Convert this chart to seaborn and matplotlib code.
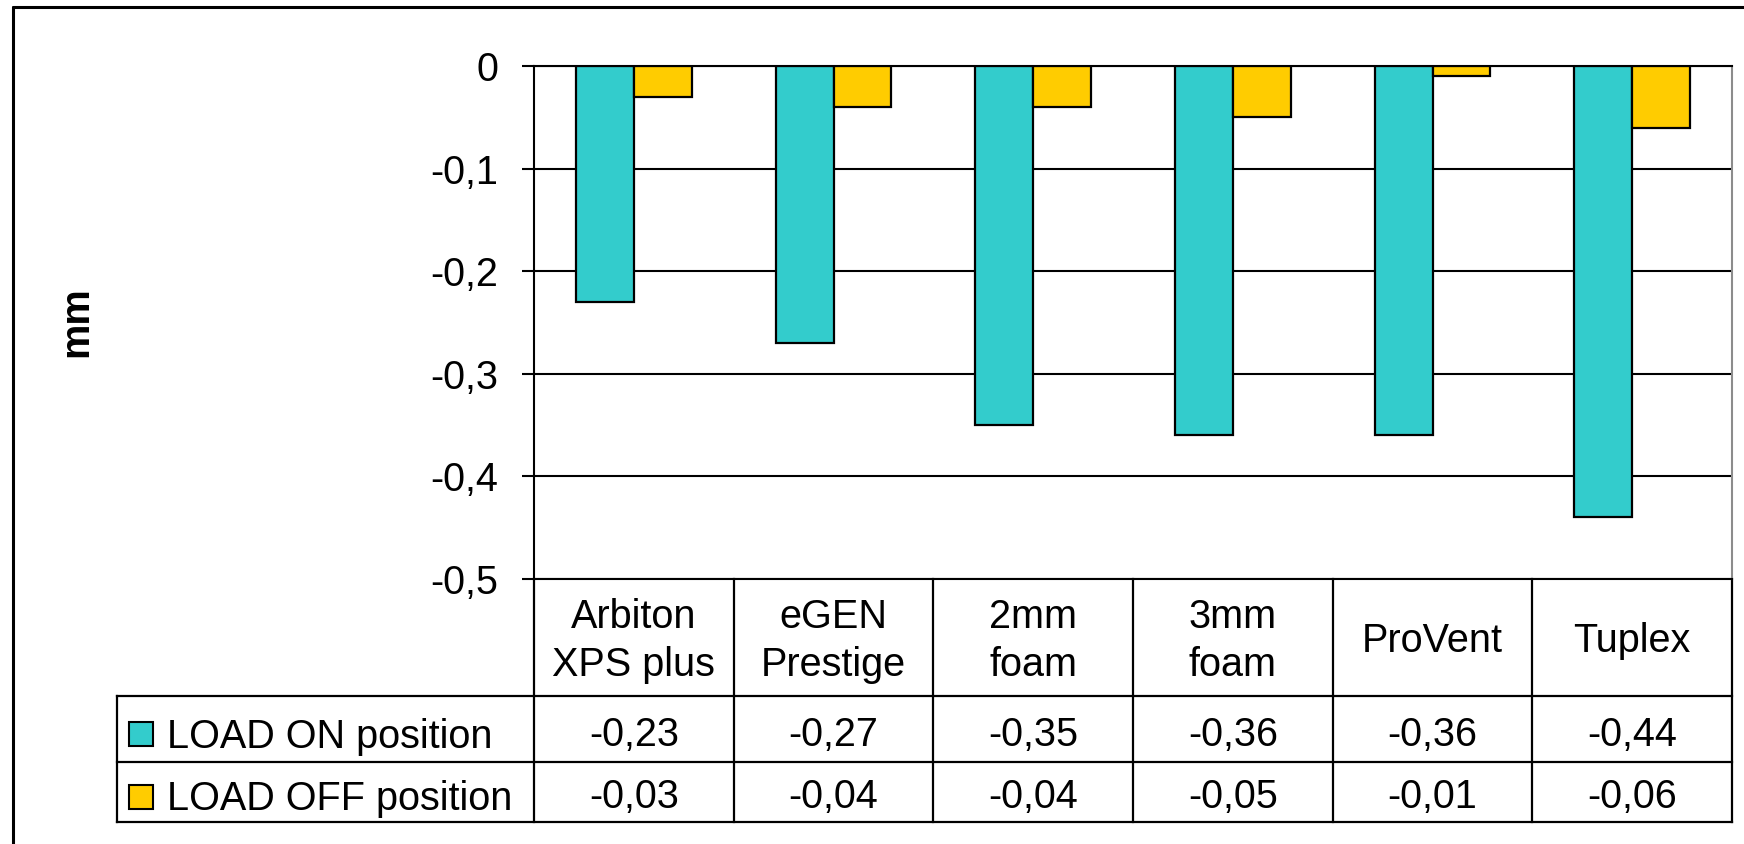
import matplotlib
matplotlib.use("Agg")
import matplotlib.pyplot as plt
from matplotlib.patches import Rectangle
from matplotlib.ticker import FuncFormatter
from matplotlib.transforms import blended_transform_factory
import seaborn as sns
import pandas as pd

# ---- data ----
categories = ["Arbiton\nXPS plus", "eGEN\nPrestige", "2mm\nfoam", "3mm\nfoam", "ProVent", "Tuplex"]
series_names = ["LOAD ON position", "LOAD OFF position"]
load_on = [-0.23, -0.27, -0.35, -0.36, -0.36, -0.44]
load_off = [-0.03, -0.04, -0.04, -0.05, -0.01, -0.06]
y_ticks = [0, -0.1, -0.2, -0.3, -0.4, -0.5]
y_label = "mm"
colors = ["#33CCCC", "#FFCC00"]

sns.set_theme(style="white")
plt.rcParams["font.family"] = ["Liberation Sans", "DejaVu Sans"]
FS = 28.5

df = pd.DataFrame({
    "material": categories * 2,
    "series": [series_names[0]] * len(categories) + [series_names[1]] * len(categories),
    "value": load_on + load_off,
})

W, H, DPI = 1744, 844, 100
fig = plt.figure(figsize=(W / DPI, H / DPI), dpi=DPI)
fig.patch.set_facecolor("white")
ax = fig.add_axes([534 / W, 1 - 579 / H, 1198 / W, 513 / H])

sns.barplot(data=df, x="material", y="value", hue="series", order=categories,
            hue_order=series_names, palette=colors, saturation=1, width=0.58,
            edgecolor="black", linewidth=1.6, ax=ax, legend=False, errorbar=None)

ax.set_xlim(-0.5, len(categories) - 0.5)
ax.set_ylim(-0.5, 0)
ax.set_yticks(y_ticks)
ax.yaxis.set_major_formatter(FuncFormatter(lambda v, p: ("%g" % round(v, 2)).replace(".", ",")))
ax.tick_params(axis="y", which="major", length=9, width=1.5, color="black", pad=17,
               labelsize=FS, labelcolor="black", left=True)
ax.set_xticks([])
ax.set_xlabel("")
ax.set_axisbelow(True)
ax.grid(axis="y", color="black", linewidth=1.5)
ax.grid(axis="x", visible=False)
for side in ["left", "top", "bottom"]:
    ax.spines[side].set_visible(True)
    ax.spines[side].set_color("black")
    ax.spines[side].set_linewidth(1.5)
ax.spines["right"].set_visible(True)
ax.spines["right"].set_color("#8c8c8c")
ax.spines["right"].set_linewidth(1.5)

ax.set_ylabel(y_label, fontsize=FS, fontweight="bold", color="black")
ax.yaxis.set_label_coords(-0.3664, 0.501)

# ---- data table below axes ----
bt = blended_transform_factory(ax.transData, ax.transAxes)
n = len(categories)
row_y = [0, -117 / 513, -183 / 513, -243 / 513]
left_x = (117 - 534) / 1198
lw = 1.6
line_kw = dict(color="black", linewidth=lw, clip_on=False, solid_capstyle="projecting")

# horizontal lines
for yy in row_y[1:]:
    ax.plot([left_x, 1], [yy, yy], transform=ax.transAxes, **line_kw)
# vertical lines (column boundaries)
for i in range(n + 1):
    ax.plot([i - 0.5, i - 0.5], [row_y[0], row_y[3]], transform=bt, **line_kw)
ax.plot([left_x, left_x], [row_y[1], row_y[3]], transform=ax.transAxes, **line_kw)

# header labels
for i, cat in enumerate(categories):
    ax.text(i, (row_y[0] + row_y[1]) / 2 - 0.006, cat, transform=bt, ha="center", va="center",
            fontsize=FS, color="black", linespacing=1.33, clip_on=False)

# value rows
baselines = [-0.3255, -0.4464]
for vals, yb in zip([load_on, load_off], baselines):
    for i, v in enumerate(vals):
        ax.text(i, yb, ("%.2f" % v).replace(".", ","), transform=bt, ha="center",
                va="baseline", fontsize=FS, color="black", clip_on=False)

# row labels with legend keys
sq_w, sq_h = 24 / 1198, 24 / 513
sq_x = (129 - 534) / 1198
txt_x = (167 - 534) / 1198
key_centers = [(579 - 734) / 513, (579 - 797) / 513]
for name, col, yb, yc in zip(series_names, colors, baselines, key_centers):
    ax.add_patch(Rectangle((sq_x, yc - sq_h / 2), sq_w, sq_h, transform=ax.transAxes,
                           facecolor=col, edgecolor="black", linewidth=1.5, clip_on=False))
    ax.text(txt_x, yb - 0.003, name, transform=ax.transAxes, ha="left", va="baseline",
            fontsize=FS, color="black", clip_on=False)

# outer chart border (left and top visible)
fig.add_artist(plt.Line2D([13 / W, 13 / W], [0, 1 - 7 / H], transform=fig.transFigure,
                          color="black", linewidth=2.2))
fig.add_artist(plt.Line2D([13 / W, 1], [1 - 7 / H, 1 - 7 / H], transform=fig.transFigure,
                          color="black", linewidth=2.2))

fig.savefig("out.png", dpi=DPI, facecolor="white")
